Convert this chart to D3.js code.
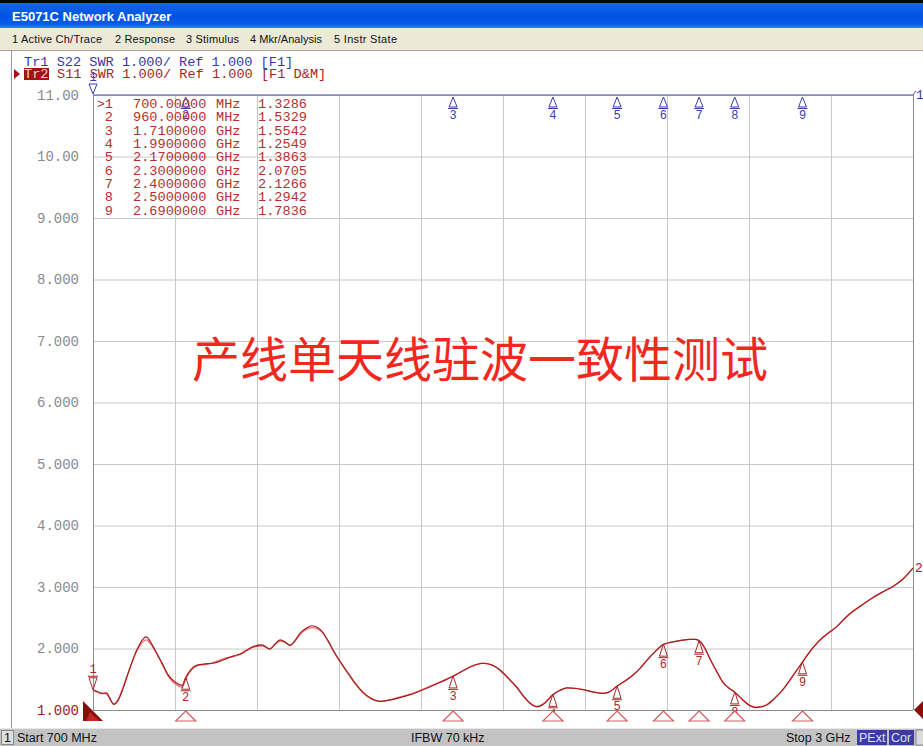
<!DOCTYPE html>
<html lang="en">
<head>
<meta charset="UTF-8">
<title>E5071C SWR</title>
<script src="https://cdn.jsdelivr.net/npm/d3@7"></script>
<style>
  body { margin: 0; background: #fff; }
  svg { display: block; }
</style>
</head>
<body>
<svg width="923" height="746"></svg>
<script>
// trace data: frequency (MHz) and SWR
var freqs = [700,712,725,738,748,758,770,785,800,823,849,866,880,895,910,925,940,950,960,975,
  992,1015,1037,1060,1076,1095,1112,1130,1149,1174,1196,1210,1225,1240,1253,1268,1281,1298,1314,1330,
  1345,1360,1373,1392,1412,1435,1457,1480,1505,1530,1553,1590,1626,1670,1710,1735,1758,1794,1820,1842,
  1865,1889,1910,1926,1945,1965,1990,2010,2030,2055,2075,2105,2131,2150,2170,2192,2215,2235,2254,2275,
  2300,2320,2338,2360,2375,2390,2400,2415,2431,2450,2467,2485,2500,2520,2535,2557,2575,2590,2612,2635,
  2660,2690,2715,2739,2760,2787,2810,2832,2860,2888,2915,2944,2972,3000];
var dataSwr = [1.33,1.30,1.27,1.28,1.18,1.09,1.15,1.36,1.62,1.98,2.19,2.06,1.91,1.75,1.58,1.48,1.42,1.40,1.53,1.66,
  1.73,1.75,1.76,1.80,1.84,1.88,1.91,1.97,2.03,2.06,1.99,2.07,2.14,2.10,2.05,2.14,2.25,2.33,2.37,2.34,
  2.26,2.12,1.98,1.80,1.63,1.44,1.29,1.19,1.14,1.16,1.19,1.25,1.33,1.44,1.55,1.63,1.70,1.76,1.73,1.65,
  1.52,1.37,1.21,1.11,1.05,1.10,1.25,1.32,1.36,1.35,1.33,1.29,1.27,1.30,1.39,1.47,1.57,1.68,1.81,1.94,
  2.07,2.10,2.12,2.14,2.15,2.15,2.13,2.02,1.83,1.62,1.45,1.35,1.29,1.18,1.10,1.04,1.05,1.08,1.19,1.33,
  1.53,1.78,1.98,2.14,2.24,2.36,2.50,2.61,2.72,2.83,2.92,3.01,3.13,3.31];
var memSwr = [1.31,1.29,1.27,1.26,1.17,1.10,1.17,1.38,1.63,1.96,2.14,2.04,1.90,1.73,1.56,1.45,1.39,1.37,1.50,1.64,
  1.72,1.74,1.77,1.82,1.85,1.87,1.90,1.96,2.02,2.04,2.00,2.06,2.12,2.09,2.06,2.13,2.23,2.31,2.34,2.32,
  2.25,2.11,1.97,1.79,1.62,1.43,1.28,1.18,1.14,1.16,1.20,1.26,1.34,1.45,1.55,1.63,1.70,1.76,1.73,1.64,
  1.51,1.36,1.20,1.11,1.06,1.11,1.25,1.32,1.36,1.35,1.33,1.29,1.27,1.30,1.39,1.47,1.57,1.68,1.81,1.94,
  2.06,2.10,2.12,2.14,2.15,2.15,2.12,2.01,1.82,1.62,1.45,1.35,1.29,1.18,1.10,1.05,1.06,1.09,1.19,1.33,
  1.53,1.78,1.98,2.13,2.24,2.36,2.49,2.60,2.72,2.83,2.92,3.01,3.13,3.30];

// marker table
var markerIds = ['1','2','3','4','5','6','7','8','9'];
var markerFreq = [700,960,1710,1990,2170,2300,2400,2500,2690];
var markerFreqText = ['700.00000','960.00000','1.7100000','1.9900000','2.1700000','2.3000000','2.4000000','2.5000000','2.6900000'];
var markerUnit = ['MHz','MHz','GHz','GHz','GHz','GHz','GHz','GHz','GHz'];
var markerSwr = [1.3286,1.5329,1.5542,1.2549,1.3863,2.0705,2.1266,1.2942,1.7836];

// y axis ticks
var yTicks = [1,2,3,4,5,6,7,8,9,10,11];
var yLabels = ['1.000','2.000','3.000','4.000','5.000','6.000','7.000','8.000','9.000','10.00','11.00'];
var startStop = [700, 3000];
var divisions = 10;

(function(){
var svg = d3.select('svg');
var mono = '"Liberation Mono","DejaVu Sans Mono",monospace';
var sans = '"Liberation Sans","DejaVu Sans",sans-serif';

var pL = 93, pR = 913, pT = 95, pB = 710;
var x = d3.scaleLinear().domain(startStop).range([pL, pR]);
var y = d3.scaleLinear().domain([1, 11]).range([pB, pT]);

// ---- window chrome ----
var defs = svg.append('defs');
var grad = defs.append('linearGradient').attr('id','tb').attr('x1',0).attr('y1',0).attr('x2',0).attr('y2',1);
grad.append('stop').attr('offset','0').attr('stop-color','#1765e8');
grad.append('stop').attr('offset','0.5').attr('stop-color','#0055e3');
grad.append('stop').attr('offset','0.85').attr('stop-color','#0a5ae6');
grad.append('stop').attr('offset','1').attr('stop-color','#3a85f2');

svg.append('rect').attr('x',0).attr('y',0).attr('width',923).attr('height',3).attr('fill','#000');
svg.append('rect').attr('x',0).attr('y',3).attr('width',923).attr('height',25).attr('fill','url(#tb)');
svg.append('text').attr('x',12).attr('y',21).text('E5071C Network Analyzer')
  .attr('font-family',sans).attr('font-weight','bold').attr('font-size',13).attr('fill','#fff');

svg.append('rect').attr('x',0).attr('y',28).attr('width',923).attr('height',22).attr('fill','#ece9d8');
svg.append('line').attr('x1',0).attr('x2',923).attr('y1',50.5).attr('y2',50.5).attr('stroke','#a8a698');
var menu = [['1 Active Ch/Trace',12],['2 Response',115],['3 Stimulus',186],['4 Mkr/Analysis',250],['5 Instr State',334]];
svg.selectAll('.menu').data(menu).enter().append('text')
  .attr('x',function(d){ return d[1]; }).attr('y',43).text(function(d){ return d[0]; })
  .attr('font-family',sans).attr('font-size',11).attr('fill','#111')
  .attr('textLength',function(d,i){ return [90,60,53,72,63][i]; });

svg.append('line').attr('x1',11.5).attr('x2',11.5).attr('y1',51).attr('y2',728).attr('stroke','#9a9a9a');

// ---- trace header ----
svg.append('text').attr('x',24).attr('y',66).text('Tr1 S22 SWR 1.000/ Ref 1.000 [F1]')
  .attr('font-family',mono).attr('font-size',13.6).attr('fill','#3838a0');
svg.append('path').attr('d','M14,69 L20,74 L14,79 Z').attr('fill','#a01414');
svg.append('rect').attr('x',24).attr('y',68).attr('width',25).attr('height',12).attr('fill','#a01414');
svg.append('text').attr('x',24).attr('y',78).text('Tr2')
  .attr('font-family',mono).attr('font-size',13.6).attr('fill','#f4d0d0');
svg.append('text').attr('x',57).attr('y',78).text('S11 SWR 1.000/ Ref 1.000 [F1 D&M]')
  .attr('font-family',mono).attr('font-size',13.6).attr('fill','#a02828');

// ---- grid ----
var gridFreqs = d3.range(divisions + 1).map(function(i){ return startStop[0] + i * (startStop[1]-startStop[0]) / divisions; });
var gx = svg.append('g').attr('transform','translate(0,'+pB+')')
  .call(d3.axisBottom(x).tickValues(gridFreqs).tickSize(-(pB-pT)).tickFormat(''));
gx.select('.domain').remove();
gx.selectAll('line').attr('stroke','#c8c8c8');

var gy = svg.append('g').attr('transform','translate('+pL+',0)')
  .call(d3.axisLeft(y).tickValues(yTicks).tickSize(-(pR-pL)).tickPadding(14)
    .tickFormat(function(d,i){ return yLabels[i]; }));
gy.select('.domain').remove();
gy.selectAll('line').attr('stroke','#c8c8c8');
gy.selectAll('text').attr('font-family',mono).attr('font-size',14).attr('fill','#8a8a8a')
  .filter(function(d){ return d === 1; }).attr('fill','#a01a1a');

// frame
svg.append('line').attr('x1',pL+0.5).attr('x2',pL+0.5).attr('y1',pT).attr('y2',pB).attr('stroke','#8c8c8c');
svg.append('line').attr('x1',pR+0.5).attr('x2',pR+0.5).attr('y1',pT).attr('y2',pB).attr('stroke','#8c8c8c');
svg.append('line').attr('x1',pL).attr('x2',pR).attr('y1',pB+0.5).attr('y2',pB+0.5).attr('stroke','#8c8c8c');

// ---- title overlay ----
svg.append('text').attr('x',480).attr('y',356).attr('text-anchor','middle').attr('dominant-baseline','central')
  .text('产线单天线驻波一致性测试')
  .attr('font-family','"Noto Sans CJK SC",sans-serif').attr('font-size',48).attr('fill','#f0281e');

// ---- Tr1 (clipped at top) ----
svg.append('line').attr('x1',pL).attr('x2',pR).attr('y1',y(11)).attr('y2',y(11)).attr('stroke','#4a4ac0').attr('stroke-width',1.2);
svg.append('path').attr('d','M'+pR+','+y(11)+' L'+(pR+3)+','+(y(11)-4)).attr('stroke','#4a4ac0').attr('fill','none');
svg.append('text').attr('x',pR+3).attr('y',y(11)+4).text('1').attr('font-family',mono).attr('font-size',13).attr('fill','#3838a0');

var blue = '#3c3ca8';
markerIds.forEach(function(id,i){
  var mx = x(markerFreq[i]), ty = y(11);
  if (i === 0) {
    svg.append('path').attr('d','M'+(mx-4)+','+(ty-11)+' L'+(mx+4)+','+(ty-11)+' L'+mx+','+(ty-1)+' Z')
      .attr('fill','none').attr('stroke',blue);
    svg.append('text').attr('x',mx).attr('y',ty-14).attr('text-anchor','middle').text(id)
      .attr('font-family',mono).attr('font-size',12).attr('fill',blue);
  } else {
    svg.append('path').attr('d','M'+mx+','+(ty+2)+' L'+(mx+4)+','+(ty+12)+' L'+(mx-4)+','+(ty+12)+' Z')
      .attr('fill','none').attr('stroke',blue);
    svg.append('line').attr('x1',mx-5).attr('x2',mx+5).attr('y1',ty+13.5).attr('y2',ty+13.5).attr('stroke',blue);
    svg.append('text').attr('x',mx).attr('y',ty+24).attr('text-anchor','middle').text(id)
      .attr('font-family',mono).attr('font-size',12).attr('fill',blue);
  }
});

// ---- marker table ----
var red = '#b23030';
var table = svg.append('g').attr('font-family',mono).attr('font-size',13.6).attr('fill',red);
markerIds.forEach(function(id,i){
  var ty = 108 + i * 13.35;
  table.append('text').attr('x',113).attr('y',ty).attr('text-anchor','end').text(i === 0 ? '>' + id : id);
  table.append('text').attr('x',133).attr('y',ty).text(markerFreqText[i]);
  table.append('text').attr('x',216).attr('y',ty).text(markerUnit[i]);
  table.append('text').attr('x',258).attr('y',ty).text(markerSwr[i].toFixed(4));
});

// ---- Tr2 traces ----
var line = d3.line().x(function(d){ return x(d[0]); }).y(function(d){ return y(d[1]); }).curve(d3.curveMonotoneX);
svg.append('path').datum(d3.zip(freqs, memSwr)).attr('d', line)
  .attr('fill','none').attr('stroke','#f07070').attr('stroke-width',1.3);
svg.append('path').datum(d3.zip(freqs, dataSwr)).attr('d', line)
  .attr('fill','none').attr('stroke','#a41c1c').attr('stroke-width',1.2);

svg.append('text').attr('x',pR+2).attr('y',y(dataSwr[dataSwr.length-1])+4).text('2')
  .attr('font-family',mono).attr('font-size',13).attr('fill','#a02020');

// Tr2 markers on the trace
var mred = '#a82828';
markerIds.forEach(function(id,i){
  var mx = x(markerFreq[i]), my = y(markerSwr[i]);
  if (i === 0) {
    svg.append('path').attr('d','M'+(mx-4)+','+(my-12)+' L'+(mx+4)+','+(my-12)+' L'+mx+','+my+' Z')
      .attr('fill','none').attr('stroke',mred);
    svg.append('line').attr('x1',mx-5).attr('x2',mx+5).attr('y1',my-13.5).attr('y2',my-13.5).attr('stroke',mred);
    svg.append('text').attr('x',mx).attr('y',my-17).attr('text-anchor','middle').text(id)
      .attr('font-family',mono).attr('font-size',12).attr('fill',mred);
  } else {
    svg.append('path').attr('d','M'+mx+','+my+' L'+(mx+4)+','+(my+12)+' L'+(mx-4)+','+(my+12)+' Z')
      .attr('fill','none').attr('stroke',mred);
    svg.append('line').attr('x1',mx-5).attr('x2',mx+5).attr('y1',my+13.5).attr('y2',my+13.5).attr('stroke',mred);
    svg.append('text').attr('x',mx).attr('y',my+24).attr('text-anchor','middle').text(id)
      .attr('font-family',mono).attr('font-size',12).attr('fill',mred);
  }
});

// stimulus marker triangles below the grid
markerFreq.slice(1).forEach(function(f){
  var mx = x(f);
  svg.append('path').attr('d','M'+mx+','+(pB+1)+' L'+(mx+10)+','+(pB+11)+' L'+(mx-10)+','+(pB+11)+' Z')
    .attr('fill','#fff').attr('stroke','#d06060').attr('stroke-width',1.2);
});

// reference level indicators
svg.append('path').attr('d','M83,701 L103,721 L83,721 Z').attr('fill','#8c0c0c');
svg.append('path').attr('d','M90,712 L99,721 L86,721 Z').attr('fill','#c02828');
svg.append('path').attr('d','M'+(pR+1)+','+pB+' L'+(pR+12)+','+(pB-11)+' L'+(pR+12)+','+(pB+11)+' Z').attr('fill','#8c0c0c');

// ---- status bar ----
svg.append('rect').attr('x',0).attr('y',728).attr('width',923).attr('height',18).attr('fill','#c3c3c3');
svg.append('line').attr('x1',0).attr('x2',923).attr('y1',728.5).attr('y2',728.5).attr('stroke','#e8e8e8');
svg.append('rect').attr('x',1.5).attr('y',730.5).attr('width',12).attr('height',14).attr('fill','#dedede').attr('stroke','#8a8a8a');
var sbar = svg.append('g').attr('font-family',sans).attr('font-size',12.5).attr('fill','#111');
sbar.append('text').attr('x',4).attr('y',742).text('1');
sbar.append('text').attr('x',17).attr('y',742).text('Start 700 MHz');
sbar.append('text').attr('x',411).attr('y',742).text('IFBW 70 kHz');
sbar.append('text').attr('x',786).attr('y',742).text('Stop 3 GHz');
svg.append('rect').attr('x',857).attr('y',730).attr('width',30).attr('height',15).attr('fill','#3c3ca2');
svg.append('rect').attr('x',889).attr('y',730).attr('width',25).attr('height',15).attr('fill','#3c3ca2');
svg.append('rect').attr('x',916).attr('y',730).attr('width',10).attr('height',15).attr('fill','#dcdcdc').attr('stroke','#888');
svg.append('text').attr('x',859).attr('y',742).text('PExt').attr('font-family',sans).attr('font-size',12.5).attr('fill','#dfe0ff');
svg.append('text').attr('x',891).attr('y',742).text('Cor').attr('font-family',sans).attr('font-size',12.5).attr('fill','#dfe0ff');
})();
</script>
</body>
</html>
